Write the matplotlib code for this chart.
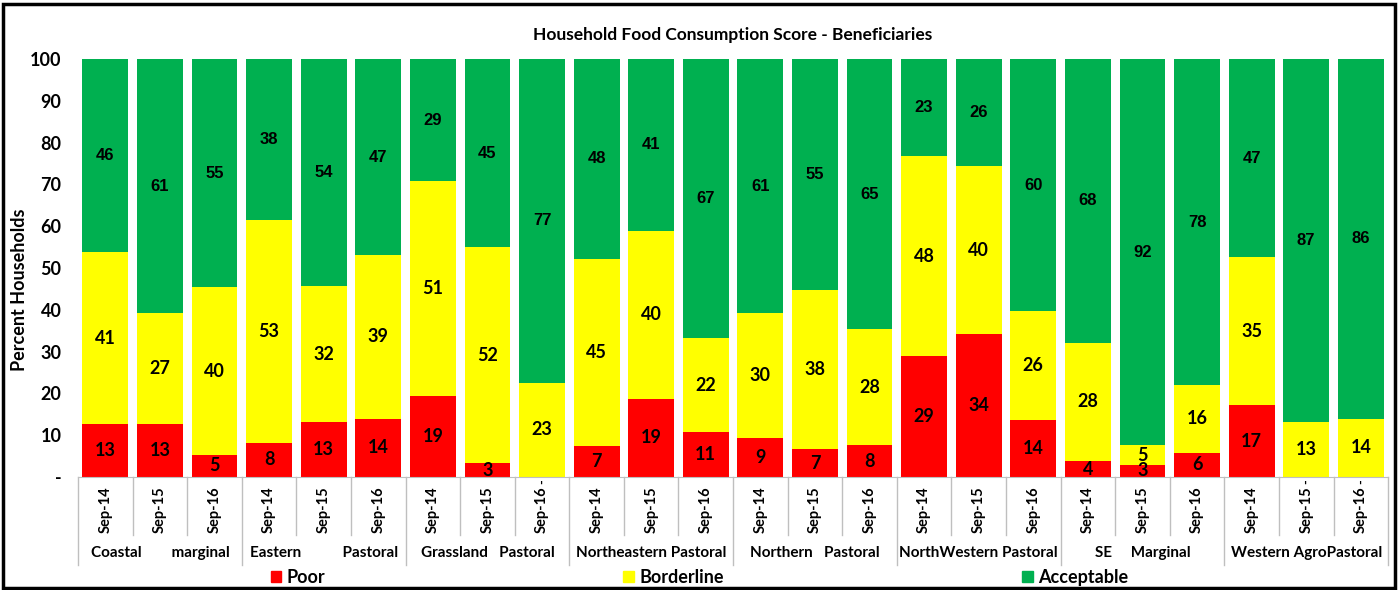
# Household Food Consumption Score - Beneficiaries
# stacked bars, 8 livelihood zones x 3 survey rounds
import numpy as np
import matplotlib.pyplot as plt
from matplotlib.patches import Patch, Rectangle

plt.rcParams['font.family'] = ['Lato', 'DejaVu Sans']

groups = ['Coastal        marginal', 'Eastern           Pastoral',
          'Grassland   Pastoral', 'Northeastern Pastoral',
          'Northern   Pastoral', 'NorthWestern Pastoral',
          'SE     Marginal', 'Western AgroPastoral']
dates = ['Sep-14', 'Sep-15', 'Sep-16']

poor = [12.7, 12.6, 5.3, 8.2, 13.1, 13.9, 19.4, 3.3, 0, 7.3, 18.7, 10.8,
        9.3, 6.6, 7.6, 28.9, 34.2, 13.6, 3.8, 2.9, 5.8, 17.2, 0, 0]
borderline = [41.1, 26.6, 40.1, 53.4, 32.5, 39.2, 51.4, 51.7, 22.6, 44.9, 40.2, 22.4,
              29.9, 38.2, 27.8, 47.9, 40.2, 26.1, 28.3, 4.7, 16.2, 35.4, 13.2, 13.9]
acceptable = [46.2, 60.8, 54.6, 38.4, 54.4, 46.9, 29.2, 45.0, 77.4, 47.8, 41.1, 66.8,
              60.8, 55.2, 64.6, 23.2, 25.6, 60.3, 67.9, 92.4, 78.0, 47.4, 86.8, 86.1]

red, yellow, green = '#FF0000', '#FFFF00', '#00B050'

x = np.arange(len(poor))
p = np.array(poor)
b = np.array(borderline)
a = np.array(acceptable)

fig = plt.figure(figsize=(13.99, 5.9), dpi=100)
ax = fig.add_axes([0.0558, 0.1915, 0.9364, 0.7085])

w = 0.84
bp = ax.bar(x, p, w, color=red)
bb = ax.bar(x, b, w, bottom=p, color=yellow)
ba = ax.bar(x, a, w, bottom=p + b, color=green)

def labs(vals):
    return [f'{v:.0f}' if v > 0 else '' for v in vals]

ax.bar_label(bp, labels=labs(p), label_type='center', fontsize=13, fontweight='bold')
ax.bar_label(bb, labels=labs(b), label_type='center', fontsize=13, fontweight='bold')
ax.bar_label(ba, labels=labs(a), label_type='center', fontsize=12, fontweight='bold',
             fontfamily='Liberation Sans')

ax.set_xlim(-0.5, len(x) - 0.5)
ax.set_ylim(0, 100)
ax.set_yticks(range(0, 101, 10))
ax.set_yticklabels(['-'] + [str(v) for v in range(10, 101, 10)], fontsize=13, fontweight='bold')
ax.tick_params(axis='y', length=0, pad=12)
ax.set_xticks([])
for s in ['top', 'right', 'left']:
    ax.spines[s].set_visible(False)
ax.spines['bottom'].set_color('#BFBFBF')
ax.set_ylabel('Percent Households', fontsize=13, fontweight='bold')
ax.yaxis.set_label_coords(-0.038, 0.447)

# multi-level category axis
tr = ax.get_xaxis_transform()
for i in range(len(x)):
    ax.text(i, -0.022, dates[i % 3], rotation=90, ha='center', va='top',
            fontsize=10.5, fontweight='bold', transform=tr, clip_on=False)
    if p[i] == 0:
        ax.text(i, -0.012, '-', rotation=90, ha='center', va='center',
                fontsize=9, fontweight='bold', transform=tr, clip_on=False)
for k in range(len(x) + 1):
    low = -0.21 if k % 3 == 0 else -0.139
    ax.plot([k - 0.5, k - 0.5], [0, low], color='#BFBFBF', lw=1,
            transform=tr, clip_on=False)
for g, name in enumerate(groups):
    ax.text(3 * g + 1, -0.182, name, ha='center', va='center',
            fontsize=11, fontweight='bold', transform=tr, clip_on=False)

ax.set_title('Household Food Consumption Score - Beneficiaries', fontsize=12.5,
             fontweight='bold', pad=14)

handles = [Patch(color=red, label='Poor'), Patch(color=yellow, label='Borderline'),
           Patch(color=green, label='Acceptable')]
fig.legend(handles=handles, loc='center', bbox_to_anchor=(0.5, 0.021), ncol=3,
           frameon=False, handlelength=0.6, handleheight=0.6,
           handletextpad=0.3, columnspacing=16.5, prop={'weight': 'bold', 'size': 13})

fig.patches.append(Rectangle((0.002, 0.003), 0.995, 0.99, transform=fig.transFigure,
                             fill=False, edgecolor='black', lw=2.5))

fig.savefig('out.png', dpi=100)
